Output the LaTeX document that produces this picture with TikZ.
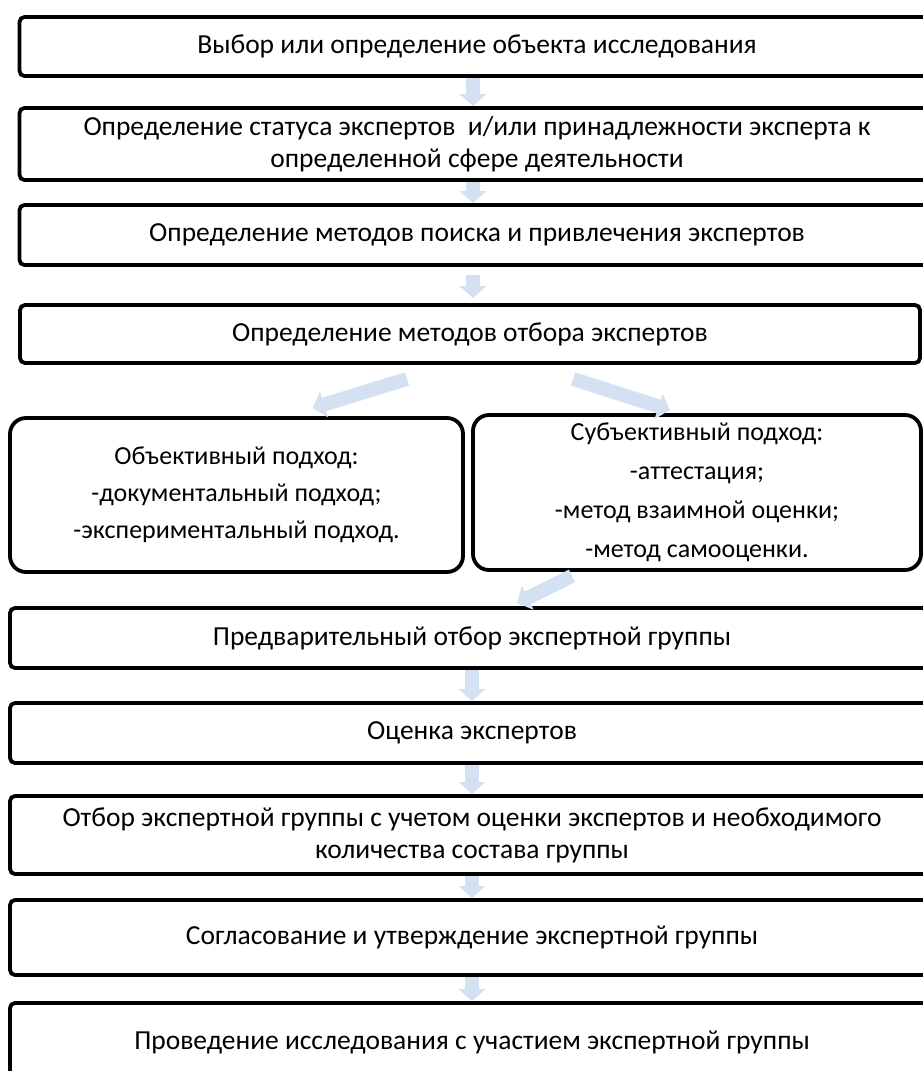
\documentclass[tikz,border=0pt]{standalone}
\usepackage{fontspec}
\setmainfont{Carlito}
\usetikzlibrary{arrows.meta}

\definecolor{arrowblue}{RGB}{212,225,243}

\tikzset{
  stepbox/.style={draw, line width=3.8pt, rounded corners=5pt, align=center,
    inner sep=0pt, font=\fontsize{27.5}{32}\selectfont},
  sidebox/.style={stepbox, rounded corners=16pt, font=\fontsize{26}{32}\selectfont},
  flowarrow/.style={draw=arrowblue, line width=14pt,
    -{Triangle[width=26pt,length=12pt]}},
}

\begin{document}
\begin{tikzpicture}[x=1pt,y=-1pt]
  % page frame
  \clip (0,0) rectangle (923,1071);
  \fill[white] (0,0) rectangle (923,1071);

  % upper steps
  \node[stepbox, minimum width=915pt, minimum height=59pt] (b1) at (477,46.5)
    {Выбор или определение объекта исследования};
  \node[stepbox, minimum width=915pt, minimum height=72pt] (b2) at (477,144)
    {Определение статуса экспертов~ и/или принадлежности эксперта к\\
     определенной сфере деятельности};
  \node[stepbox, minimum width=915pt, minimum height=60pt] (b3) at (477,235)
    {Определение методов поиска и привлечения экспертов};
  \node[stepbox, minimum width=900pt, minimum height=58pt] (b4) at (470,334)
    {Определение методов отбора экспертов};

  % two approaches
  \node[sidebox, minimum width=453pt, minimum height=154pt] (lb) at (236.5,495)
    {Объективный подход:\\[5pt]
     -документальный подход;\\[5pt]
     -экспериментальный подход.};
  \node[sidebox, minimum width=448pt, minimum height=155pt] (rb) at (697,492.5)
    {Субъективный подход:\\[7pt]
     -аттестация;\\[7pt]
     -метод взаимной оценки;\\[7pt]
     -метод самооценки.};

  % lower steps
  \node[stepbox, minimum width=924pt, minimum height=60pt] (b5) at (472,638)
    {Предварительный отбор экспертной группы};
  \node[stepbox, minimum width=924pt, minimum height=60pt] (b6) at (472,733)
    {Оценка экспертов};
  \node[stepbox, minimum width=924pt, minimum height=78pt] (b7) at (472,835)
    {Отбор экспертной группы с учетом оценки экспертов и необходимого\\
     количества состава группы};
  \node[stepbox, minimum width=924pt, minimum height=75pt] (b8) at (472,937.5)
    {Согласование и утверждение экспертной группы};
  \node[stepbox, minimum width=924pt, minimum height=78pt] (b9) at (472,1042)
    {Проведение исследования с участием экспертной группы};

  % arrows
  \draw[flowarrow] ([xshift=-4pt]b1.south) -- ([xshift=-4pt]b2.north);
  \draw[flowarrow] ([xshift=-4pt]b2.south) -- ([xshift=-4pt]b3.north);
  \draw[flowarrow, shorten <=8pt, shorten >=5pt] ([xshift=-4pt]b3.south) -- ([xshift=3pt]b4.north);
  \draw[flowarrow] ([xshift=-63pt,yshift=-14pt]b4.south) -- ([xshift=76pt,yshift=8pt]lb.north);
  \draw[flowarrow] ([xshift=103pt,yshift=-14pt]b4.south) -- ([xshift=-27pt,yshift=3pt]rb.north);
  \draw[flowarrow] ([xshift=-125pt,yshift=-4pt]rb.south) -- ([xshift=45pt,yshift=3pt]b5.north);
  \draw[flowarrow] (b5.south) -- (b6.north);
  \draw[flowarrow] (b6.south) -- (b7.north);
  \draw[flowarrow] (b7.south) -- (b8.north);
  \draw[flowarrow] (b8.south) -- (b9.north);
\end{tikzpicture}
\end{document}
